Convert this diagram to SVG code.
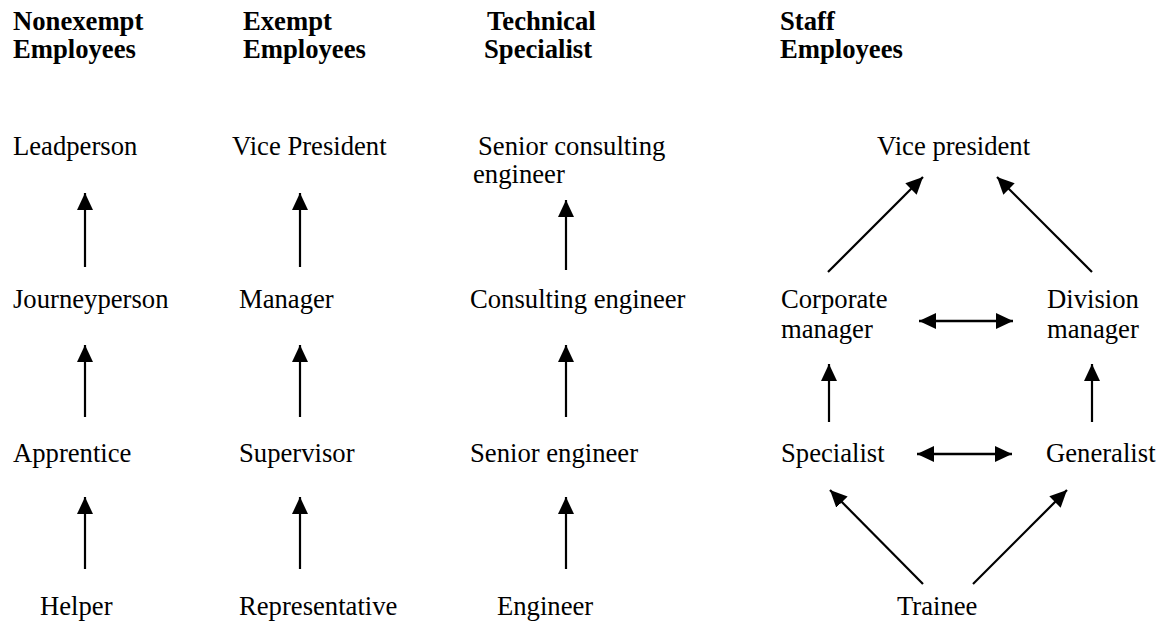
<svg xmlns="http://www.w3.org/2000/svg" width="1164" height="621" viewBox="0 0 1164 621">
  <style>
    text { font-family: "Liberation Serif", "Times New Roman", serif; font-size: 26.67px; fill: #000; }
    .hd { font-weight: bold; }
    .ln { stroke: #000; stroke-width: 2.2; fill: none; marker-end: url(#head); }
    .dbl { marker-start: url(#head); stroke-width: 2.6; }
  </style>
  <defs>
    <marker id="head" viewBox="0 0 17 16" refX="17" refY="8" markerWidth="17" markerHeight="16" markerUnits="userSpaceOnUse" orient="auto-start-reverse">
      <path d="M0,0 L17,8 L0,16 z" fill="#000"/>
    </marker>
  </defs>
  <rect width="1164" height="621" fill="#fff"/>

  <!-- column headings -->
  <g id="hdr-nonexempt"><text class="hd" x="13" y="30">Nonexempt</text><text class="hd" x="13" y="58">Employees</text></g>
  <g id="hdr-exempt"><text class="hd" x="243" y="30">Exempt</text><text class="hd" x="243" y="58">Employees</text></g>
  <g id="hdr-technical"><text class="hd" x="487" y="30">Technical</text><text class="hd" x="484" y="58">Specialist</text></g>
  <g id="hdr-staff"><text class="hd" x="780" y="30">Staff</text><text class="hd" x="780" y="58">Employees</text></g>

  <!-- nonexempt ladder -->
  <g id="leadperson"><text x="13" y="155">Leadperson</text></g>
  <g id="journeyperson"><text x="13" y="308">Journeyperson</text></g>
  <g id="apprentice"><text x="13" y="462">Apprentice</text></g>
  <g id="helper"><text x="40" y="615">Helper</text></g>

  <!-- exempt ladder -->
  <g id="vice-president"><text x="232" y="155">Vice President</text></g>
  <g id="manager"><text x="239" y="308">Manager</text></g>
  <g id="supervisor"><text x="239" y="462">Supervisor</text></g>
  <g id="representative"><text x="239" y="615">Representative</text></g>

  <!-- technical ladder -->
  <g id="senior-consulting-engineer"><text x="478" y="155">Senior consulting</text><text x="473" y="183">engineer</text></g>
  <g id="consulting-engineer"><text x="470" y="308">Consulting engineer</text></g>
  <g id="senior-engineer"><text x="470" y="462">Senior engineer</text></g>
  <g id="engineer"><text x="497" y="615">Engineer</text></g>

  <!-- staff network -->
  <g id="staff-vp"><text x="877" y="155">Vice president</text></g>
  <g id="corporate-manager"><text x="781" y="308">Corporate</text><text x="781" y="338">manager</text></g>
  <g id="division-manager"><text x="1047" y="308">Division</text><text x="1047" y="338">manager</text></g>
  <g id="specialist"><text x="781" y="462">Specialist</text></g>
  <g id="generalist"><text x="1046" y="462">Generalist</text></g>
  <g id="trainee"><text x="897" y="615">Trainee</text></g>

  <g id="connectors">
    <line class="ln" x1="85" y1="267" x2="85" y2="193"/>
    <line class="ln" x1="85" y1="417" x2="85" y2="345"/>
    <line class="ln" x1="85" y1="569" x2="85" y2="497"/>

    <line class="ln" x1="300" y1="267" x2="300" y2="193"/>
    <line class="ln" x1="300" y1="417" x2="300" y2="345"/>
    <line class="ln" x1="300" y1="569" x2="300" y2="497"/>

    <line class="ln" x1="566" y1="270" x2="566" y2="200"/>
    <line class="ln" x1="566" y1="417" x2="566" y2="345"/>
    <line class="ln" x1="566" y1="569" x2="566" y2="497"/>

    <line class="ln" x1="828" y1="272" x2="923" y2="177"/>
    <line class="ln" x1="1092" y1="272" x2="997" y2="177"/>
    <line class="ln dbl" x1="919" y1="321" x2="1013" y2="321"/>
    <line class="ln" x1="829" y1="422" x2="829" y2="364"/>
    <line class="ln" x1="1092" y1="422" x2="1092" y2="364"/>
    <line class="ln dbl" x1="917" y1="454" x2="1012" y2="454"/>
    <line class="ln" x1="923" y1="584" x2="830" y2="490"/>
    <line class="ln" x1="973" y1="584" x2="1067" y2="490"/>
  </g>
</svg>
